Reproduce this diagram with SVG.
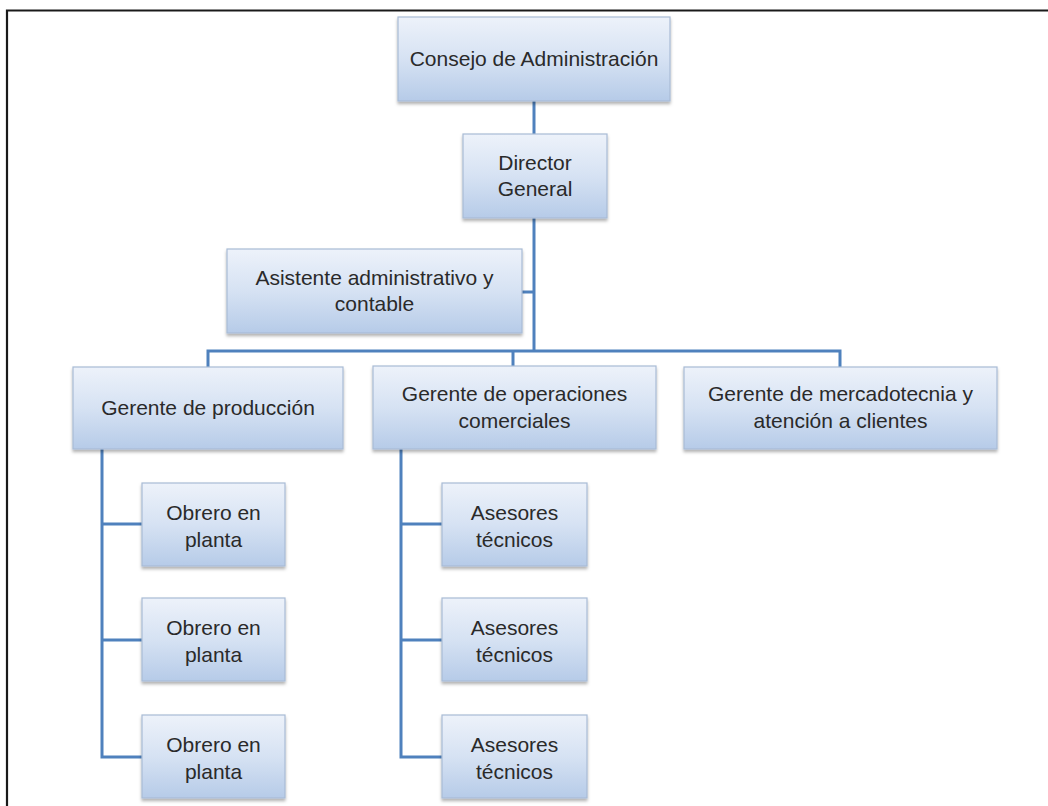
<svg xmlns="http://www.w3.org/2000/svg" width="1048" height="806" viewBox="0 0 1048 806">
<style>
.box{fill:url(#g);stroke:#a8bbd5;stroke-width:1.2;filter:url(#sh)}
.t{font-family:"Liberation Sans",Arial,sans-serif;font-size:21px;fill:#2a2a2a;text-anchor:middle}
.c{fill:none;stroke:#4f81bd;stroke-width:3}
</style>
<defs>
<linearGradient id="g" x1="0" y1="0" x2="0" y2="1">
<stop offset="0" stop-color="#edf2fa"/>
<stop offset="0.5" stop-color="#d6e2f3"/>
<stop offset="1" stop-color="#b6cbe8"/>
</linearGradient>
<filter id="sh" x="-10%" y="-10%" width="120%" height="130%">
<feDropShadow dx="0" dy="2.5" stdDeviation="1.5" flood-color="#000" flood-opacity="0.3"/>
</filter>
</defs>
<rect width="1048" height="806" fill="#fff"/>
<path d="M7,806 V10.5 H1048" fill="none" stroke="#1a1a1a" stroke-width="2.2"/>
<g id="connectors">
<path class="c" d="M534,101 V134"/>
<path class="c" d="M534,218 V351"/>
<path class="c" d="M522,292 H534"/>
<path class="c" d="M208,367 V351 H840 V367"/>
<path class="c" d="M513,351 V366"/>
<path class="c" d="M102,449 V757 H142 M102,524 H142 M102,640 H142"/>
<path class="c" d="M401,449 V757 H442 M401,524 H442 M401,640 H442"/>
</g>
<g id="consejo"><rect class="box" x="398" y="17" width="272" height="84"/><text class="t" x="534" y="66">Consejo de Administración</text></g>
<g id="director"><rect class="box" x="463" y="134" width="144" height="84"/><text class="t" x="535" y="170">Director</text><text class="t" x="535" y="196">General</text></g>
<g id="asistente"><rect class="box" x="227" y="249" width="295" height="84"/><text class="t" x="374.5" y="285">Asistente administrativo y</text><text class="t" x="374.5" y="311">contable</text></g>
<g id="gerente-produccion"><rect class="box" x="73" y="367" width="270" height="82"/><text class="t" x="208" y="415">Gerente de producción</text></g>
<g id="gerente-operaciones"><rect class="box" x="373" y="366" width="283" height="83"/><text class="t" x="514.5" y="401">Gerente de operaciones</text><text class="t" x="514.5" y="428">comerciales</text></g>
<g id="gerente-mercadotecnia"><rect class="box" x="684" y="367" width="313" height="82"/><text class="t" x="840.5" y="401">Gerente de mercadotecnia y</text><text class="t" x="840.5" y="428">atención a clientes</text></g>
<g id="obrero1"><rect class="box" x="142" y="483" width="143" height="83"/><text class="t" x="213.5" y="520">Obrero en</text><text class="t" x="213.5" y="547">planta</text></g>
<g id="obrero2"><rect class="box" x="142" y="598" width="143" height="83"/><text class="t" x="213.5" y="635">Obrero en</text><text class="t" x="213.5" y="662">planta</text></g>
<g id="obrero3"><rect class="box" x="142" y="715" width="143" height="83"/><text class="t" x="213.5" y="752">Obrero en</text><text class="t" x="213.5" y="779">planta</text></g>
<g id="asesor1"><rect class="box" x="442" y="483" width="145" height="83"/><text class="t" x="514.5" y="520">Asesores</text><text class="t" x="514.5" y="547">técnicos</text></g>
<g id="asesor2"><rect class="box" x="442" y="598" width="145" height="83"/><text class="t" x="514.5" y="635">Asesores</text><text class="t" x="514.5" y="662">técnicos</text></g>
<g id="asesor3"><rect class="box" x="442" y="715" width="145" height="83"/><text class="t" x="514.5" y="752">Asesores</text><text class="t" x="514.5" y="779">técnicos</text></g>
</svg>
